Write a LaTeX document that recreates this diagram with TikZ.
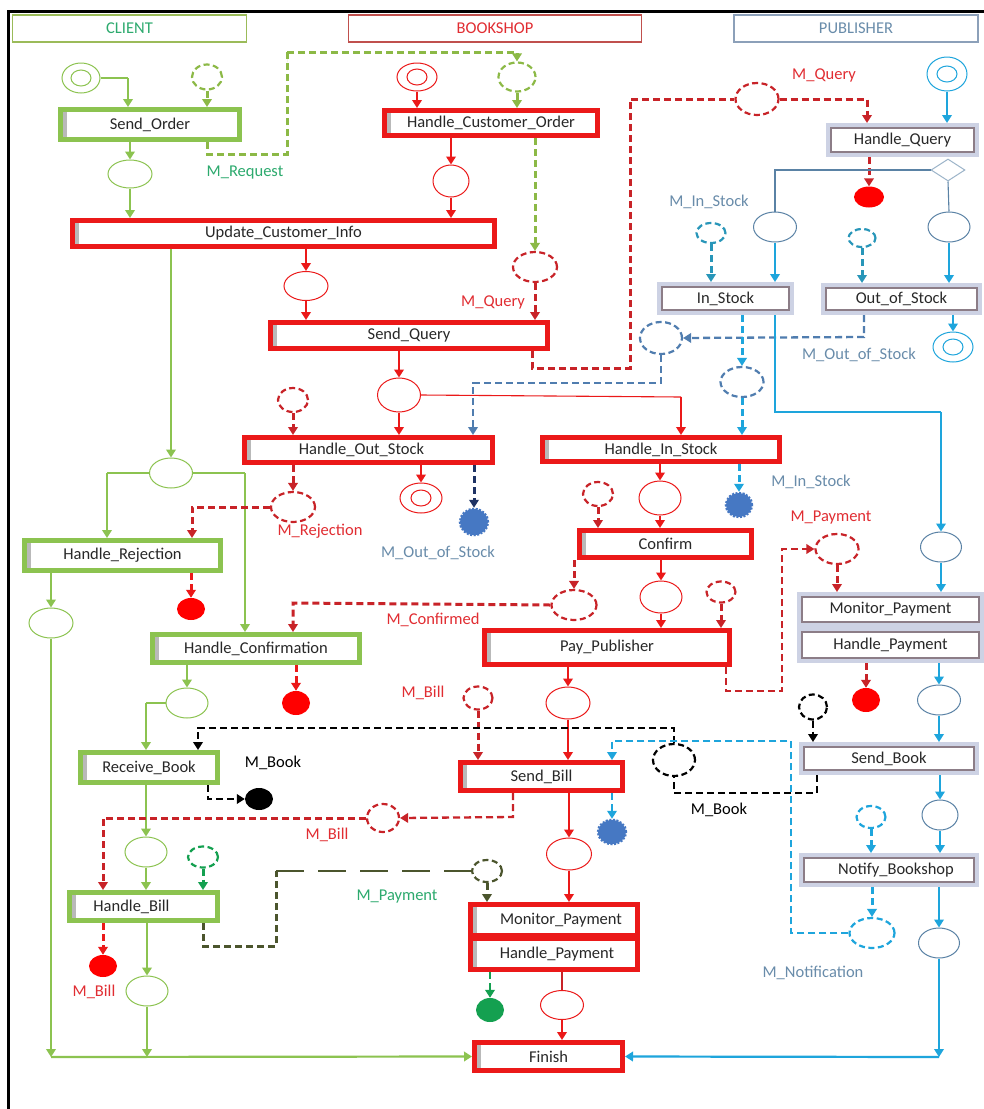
\documentclass[tikz,border=0pt]{standalone}
\usepackage{fontspec}
\setmainfont{Carlito}
\usetikzlibrary{arrows.meta,shapes.geometric,calc}

% colours
\definecolor{cg}{RGB}{140,195,80}
\definecolor{cgm}{RGB}{140,185,70}
\definecolor{cgt}{RGB}{45,170,110}
\definecolor{cgd}{RGB}{20,160,80}
\definecolor{colive}{RGB}{75,85,45}
\definecolor{cred}{RGB}{235,25,25}
\definecolor{cdred}{RGB}{200,35,40}
\definecolor{crtext}{RGB}{225,45,50}
\definecolor{ccyan}{RGB}{30,165,220}
\definecolor{cteal}{RGB}{40,150,185}
\definecolor{csteel}{RGB}{80,125,175}
\definecolor{cstext}{RGB}{105,140,170}
\definecolor{cpl}{RGB}{90,130,165}
\definecolor{cnavy}{RGB}{30,50,100}
\definecolor{cblob}{RGB}{70,120,195}
\definecolor{cpubout}{RGB}{205,210,228}
\definecolor{cpubin}{RGB}{140,125,135}
\definecolor{clientbd}{RGB}{155,187,89}
\definecolor{shopbd}{RGB}{192,80,77}
\definecolor{pubbd}{RGB}{140,160,185}
\definecolor{ctext}{RGB}{40,40,40}

\tikzset{
  every node/.style={font=\fontsize{16.5}{19}\selectfont, text=ctext},
  lane/.style={draw=#1, line width=1.2pt, minimum height=27, inner sep=0},
  shade left/.style={path picture={\fill[gray!55] (path picture bounding box.north west) rectangle ([xshift=6pt]path picture bounding box.south west);}},
  rbox/.style={draw=cred, line width=5pt, fill=white, inner sep=0, shade left},
  gbox/.style={draw=cg, line width=5pt, fill=white, inner sep=0, shade left},
  pbox/.style={draw=cpubout, line width=4pt, fill=white, inner sep=0,
    path picture={\draw[cpubin, line width=1.2pt] ([shift={(3pt,-3pt)}]path picture bounding box.north west) rectangle ([shift={(-3pt,3pt)}]path picture bounding box.south east);}},
  pl/.style={ellipse, draw=#1, line width=1pt, fill=white, inner sep=0},
  dpl/.style={ellipse, draw=#1, line width=1pt, fill=white, inner sep=0,
    path picture={\draw[#1, line width=1pt] (path picture bounding box.center) ellipse (10pt and 8pt);}},
  mpl/.style={ellipse, draw=#1, line width=2.2pt, dash pattern=on 6pt off 3.5pt, fill=white, inner sep=0},
  fend/.style={ellipse, fill=#1, inner sep=0},
  blob/.style={ellipse, fill=#1, draw=#1, line width=2.5pt, dash pattern=on 2pt off 1.5pt, inner sep=0},
  lbl/.style={text=#1, inner sep=1pt},
  tip/.style={-{Triangle[length=8pt,width=9.5pt]}},
  arr/.style={line width=2.8pt, tip},
  thinl/.style={line width=1.1pt},
  msg/.style={line width=3pt, dash pattern=on 7pt off 4pt, tip},
  msgl/.style={line width=3pt, dash pattern=on 7pt off 4pt},
  msgs/.style={line width=2.3pt, dash pattern=on 7pt off 4pt, tip},
  msgsl/.style={line width=2.3pt, dash pattern=on 7pt off 4pt},
}

\begin{document}
\begin{tikzpicture}[x=1pt,y=-1pt]
\useasboundingbox (0,0) rectangle (984,1109);
\fill[white] (0,0) rectangle (984,1109);
% outer frame
\draw[line width=3pt] (8,1109) -- (8,11) -- (984,11);

% lane headers
\node[lane=clientbd, minimum width=234] (hcl) at (129.5,28.5) {\textcolor{cgt}{CLIENT}};
\node[lane=shopbd, minimum width=293] (hsh) at (495,28.5) {\textcolor{crtext}{BOOKSHOP}};
\node[lane=pubbd, minimum width=244] (hpu) at (856,28.5) {\textcolor{cstext}{PUBLISHER}};

% ---------------- transitions ----------------
% client
\node[gbox, minimum width=179, minimum height=30] (so) at (150,124.5) {Send\_Order};
\node[gbox, minimum width=196, minimum height=30] (hr) at (122.5,555.5) {Handle\_Rejection};
\node[gbox, minimum width=207, minimum height=28] (hc) at (256,648.5) {Handle\_Confirmation};
\node[gbox, minimum width=137, minimum height=30] (rb) at (149,767.5) {Receive\_Book};
\node[gbox, minimum width=148, minimum height=28] (hb) at (143.5,906.5) {Handle\_Bill\hspace*{24pt}};
% bookshop
\node[rbox, minimum width=213, minimum height=25] (hco) at (491,123) {Handle\_Customer\_Order};
\node[rbox, minimum width=422, minimum height=26] (uci) at (283.5,233.5) {Update\_Customer\_Info};
\node[rbox, minimum width=277, minimum height=26] (sq) at (409,335.5) {Send\_Query};
\node[rbox, minimum width=248, minimum height=25] (hos) at (368.5,450) {Handle\_Out\_Stock\hspace*{14pt}};
\node[rbox, minimum width=237, minimum height=24] (his) at (661,449.5) {Handle\_In\_Stock};
\node[rbox, minimum width=172, minimum height=27] (cf) at (665.5,544) {Confirm};
\node[rbox, minimum width=245, minimum height=34] (pp) at (607,647.5) {Pay\_Publisher};
\node[rbox, minimum width=162, minimum height=28] (sb) at (541.5,776.5) {Send\_Bill};
\node[rbox, minimum width=167, minimum height=31] (bmp) at (554,920) {\hspace*{14pt}Monitor\_Payment};
\node[rbox, minimum width=167, minimum height=31] (bhp) at (554,954) {\hspace*{6pt}Handle\_Payment};
\node[rbox, minimum width=148, minimum height=28] (fin) at (548.5,1056.5) {Finish};
% publisher
\node[pbox, minimum width=149, minimum height=30] (hq) at (902.5,140) {Handle\_Query};
\node[pbox, minimum width=133, minimum height=29] (ins) at (725.5,298.5) {In\_Stock};
\node[pbox, minimum width=157, minimum height=28] (oos) at (901.5,299) {Out\_of\_Stock};
\node[pbox, minimum width=183, minimum height=31] (pmp) at (890.5,609.5) {Monitor\_Payment};
\node[pbox, minimum width=183, minimum height=32] (php) at (890.5,645) {Handle\_Payment};
\node[pbox, minimum width=176, minimum height=29] (sbk) at (889,758.5) {Send\_Book};
\node[pbox, minimum width=176, minimum height=30] (nb) at (889,870) {\hspace*{14pt}Notify\_Bookshop};

% ---------------- places ----------------
% client
\node[dpl=cg, minimum width=38, minimum height=30] (cs) at (81,78) {};
\node[mpl=cgm, minimum width=30, minimum height=25] (cm1) at (207,77) {};
\node[pl=cg, minimum width=44, minimum height=28] (cp1) at (130,174) {};
\node[pl=cg, minimum width=43, minimum height=30] (cp2) at (171,473) {};
\node[pl=cg, minimum width=44, minimum height=30] (cp3) at (51,623) {};
\node[pl=cg, minimum width=42, minimum height=30] (cp4) at (187,703) {};
\node[pl=cg, minimum width=42, minimum height=30] (cp5) at (146,852) {};
\node[mpl=cgd, minimum width=30, minimum height=21] (cm2) at (203,857) {};
\node[pl=cg, minimum width=42, minimum height=30] (cp6) at (147,991) {};
\node[fend=red, minimum width=28, minimum height=22] (re1) at (191,609) {};
\node[fend=red, minimum width=28, minimum height=24] (re2) at (296,703) {};
\node[fend=black, minimum width=28, minimum height=22] (ke1) at (259,799) {};
\node[fend=red, minimum width=28, minimum height=22] (re3) at (103,966) {};
% bookshop
\node[dpl=cred, minimum width=40, minimum height=28] (bs) at (417,77) {};
\node[mpl=cgm, minimum width=37, minimum height=29] (mreq) at (517,77) {};
\node[pl=cred, minimum width=36, minimum height=32] (bp1) at (451,181) {};
\node[pl=cred, minimum width=44, minimum height=29] (bpq) at (306,286) {};
\node[mpl=cdred, minimum width=44, minimum height=30] (mq1) at (535,267) {};
\node[pl=cred, minimum width=43, minimum height=34] (bp2) at (399,395) {};
\node[mpl=cdred, minimum width=43, minimum height=32] (mq2) at (757,99) {};
\node[mpl=cdred, minimum width=30, minimum height=24] (mrej) at (293,400) {};
\node[mpl=cdred, minimum width=44, minimum height=30] (mrj) at (293,507) {};
\node[dpl=cred, minimum width=42, minimum height=30] (bend) at (421,498) {};
\node[blob=cblob, minimum width=28, minimum height=26] (blob1) at (474,522) {};
\node[mpl=cdred, minimum width=30, minimum height=24] (mcf) at (598,494) {};
\node[pl=cred, minimum width=42, minimum height=34] (bp3) at (660,498) {};
\node[blob=cblob, minimum width=26, minimum height=24] (blob2) at (739,505) {};
\node[mpl=cdred, minimum width=45, minimum height=30] (mconf) at (574,605) {};
\node[pl=cred, minimum width=42, minimum height=32] (bp4) at (661,597) {};
\node[mpl=cdred, minimum width=29, minimum height=21] (mpay) at (721,592) {};
\node[pl=cred, minimum width=44, minimum height=32] (bp5) at (568,703) {};
\node[mpl=cdred, minimum width=29, minimum height=23] (mbill) at (478,698) {};
\node[mpl=black, minimum width=42, minimum height=32] (mbk) at (674,760) {};
\node[mpl=cdred, minimum width=32, minimum height=28] (mbl) at (383,818) {};
\node[blob=cblob, minimum width=28, minimum height=24] (blob3) at (612,832) {};
\node[pl=cred, minimum width=45, minimum height=32] (bp6) at (569,854) {};
\node[mpl=colive, minimum width=30, minimum height=22] (mpc) at (487,871) {};
\node[fend=cgd, minimum width=28, minimum height=24] (ge1) at (490,1010) {};
\node[pl=cred, minimum width=43, minimum height=29] (bp7) at (562,1005) {};
% publisher
\node[dpl=ccyan, minimum width=40, minimum height=34] (ps) at (947,74) {};
\node[diamond, draw=cpl!60, line width=1pt, fill=white, minimum width=34, minimum height=22, inner sep=0] (dia) at (948,170) {};
\node[fend=red, minimum width=30, minimum height=21] (qe1) at (869,197) {};
\node[pl=cpl, minimum width=43, minimum height=30] (pp1) at (775,227) {};
\node[pl=cpl, minimum width=42, minimum height=30] (pp2) at (949,227) {};
\node[mpl=cteal, minimum width=29, minimum height=20] (mis1) at (711,233) {};
\node[mpl=cteal, minimum width=27, minimum height=18] (mos1) at (862,238) {};
\node[mpl=csteel, minimum width=42, minimum height=32] (mos) at (661,338) {};
\node[dpl=ccyan, minimum width=40, minimum height=30] (pend) at (953,347) {};
\node[mpl=csteel, minimum width=43, minimum height=30] (misc) at (742,382) {};
\node[mpl=cdred, minimum width=43, minimum height=30] (mpp) at (837,549) {};
\node[pl=cpl, minimum width=41, minimum height=30] (pp3) at (941,547) {};
\node[fend=red, minimum width=28, minimum height=24] (pe2) at (866,700) {};
\node[pl=cpl, minimum width=43, minimum height=30] (pp4) at (939,700) {};
\node[mpl=black, minimum width=28, minimum height=25] (mbk2) at (813,707) {};
\node[pl=cpl, minimum width=36, minimum height=30] (pp5) at (940,815) {};
\node[mpl=ccyan, minimum width=29, minimum height=22] (mnb) at (871,817) {};
\node[pl=cpl, minimum width=41, minimum height=30] (pp6) at (939,943) {};
\node[mpl=ccyan, minimum width=45, minimum height=30] (mnot) at (872,933) {};

% ---------------- labels ----------------
\node[lbl=cgt] (l1) at (245,173) {M\_Request};
\node[lbl=crtext] (l2) at (824,75) {M\_Query};
\node[lbl=crtext] (l3) at (493,302) {M\_Query};
\node[lbl=cstext] (l4) at (709,202) {M\_In\_Stock};
\node[lbl=cstext] (l5) at (859,355) {M\_Out\_of\_Stock};
\node[lbl=cstext] (l6) at (811,482) {M\_In\_Stock};
\node[lbl=crtext] (l7) at (831,518) {M\_Payment};
\node[lbl=crtext] (l8) at (320,531) {M\_Rejection};
\node[lbl=cstext] (l9) at (438,553) {M\_Out\_of\_Stock};
\node[lbl=crtext] (l10) at (433,620) {M\_Confirmed};
\node[lbl=crtext] (l11) at (423,693) {M\_Bill};
\node[lbl=black] (l12) at (273,763) {M\_Book};
\node[lbl=black] (l13) at (719,810) {M\_Book};
\node[lbl=crtext] (l14) at (327,835) {M\_Bill};
\node[lbl=cgt] (l15) at (397,897) {M\_Payment};
\node[lbl=crtext] (l16) at (94,992) {M\_Bill};
\node[lbl=cstext] (l17) at (813,973) {M\_Notification};

% ---------------- junction points ----------------
\coordinate (j1) at (128,78);
\coordinate (j2) at (287,154);
\coordinate (j3) at (287,54);
\coordinate (j3b) at (287,52);
\coordinate (j4) at (107,473);
\coordinate (j5) at (245,473);
\coordinate (j6) at (146,703);
\coordinate (j7) at (208,800);
\coordinate (j8) at (276,946);
\coordinate (j9) at (276,871);
\coordinate (j10) at (681,397);
\coordinate (j11) at (532,368);
\coordinate (j12) at (630,368);
\coordinate (j13) at (630,99);
\coordinate (j14) at (867,99);
\coordinate (j15) at (192,507);
\coordinate (j16) at (864,337);
\coordinate (j17) at (661,383);
\coordinate (j18) at (473,383);
\coordinate (j19) at (293,603);
\coordinate (j20) at (726,691);
\coordinate (j21) at (782,691);
\coordinate (j22) at (782,549);
\coordinate (j23) at (817,793);
\coordinate (j24) at (674,793);
\coordinate (j25) at (674,728);
\coordinate (j26) at (198,728);
\coordinate (j27) at (791,933);
\coordinate (j28) at (791,741);
\coordinate (j29) at (612,741);
\coordinate (j30) at (513,817);
\coordinate (j31) at (103,818);
\coordinate (j32) at (775,170);
\coordinate (j33) at (775,412);
\coordinate (j34) at (941,412);
\coordinate (jb1) at (51,1057);
\coordinate (jb2) at (147,1057);
\coordinate (jb3) at (939,1057);

% ---------------- client flow ----------------
\draw[thinl, cg] (cs.east) -- (j1);
\draw[arr, cg] (j1) -- (j1 |- so.north);
\draw[msg, cgm] (cm1.south) -- (cm1.south |- so.north);
\draw[msgl, cgm] (cm1 |- so.south) |- (j2) -- (j3b);
\draw[arr, draw=none, fill=cgm] ($(j3)+(0,8)$) -- (j3);
\draw[msg, cgm] (j3b) -| (mreq.north);
\draw[arr, cg] (so.south -| cp1) -- (cp1.north);
\draw[arr, cg] (cp1.south) -- (cp1.south |- uci.north);
\draw[arr, cg] (cp2 |- uci.south) -- (cp2.north);
\draw[thinl, cg] (cp2.west) -- (j4);
\draw[arr, cg] (j4) -- (j4 |- hr.north);
\draw[thinl, cg] (cp2.east) -- (j5);
\draw[arr, cg] (j5) -- (j5 |- hc.north);
\draw[arr, cg] (cp3 |- hr.south) -- (cp3.north);
\draw[arr, cg] (cp3.south) -- (jb1);
\draw[arr, cg] (cp4 |- hc.south) -- (cp4.north);
\draw[thinl, cg] (cp4.west) -- (j6);
\draw[arr, cg] (j6) -- (j6 |- rb.north);
\draw[arr, cg] (cp5 |- rb.south) -- (cp5.north);
\draw[arr, cg] (cp5.south) -- (cp5.south |- hb.north);
\draw[msg, cgd] (cm2.south) -- (cm2.south |- hb.north);
\draw[arr, cg] (cp6 |- hb.south) -- (cp6.north);
\draw[arr, cg] (cp6.south) -- (jb2);
\draw[line width=2.2pt, cg, tip] (jb1) -- (fin.west);
\draw[msg, cred] (re1 |- hr.south) -- (re1.north);
\draw[msg, cred] (re2 |- hc.south) -- (re2.north);
\draw[msgs, black] (rb.south -| j7) |- (ke1.west);
\draw[msg, cred] (re3 |- hb.south) -- (re3.north);
\draw[msgl, colive] (hb.south -| cm2) |- (j8) -- (j9);
\draw[line width=2.8pt, colive, dash pattern=on 28pt off 14pt] (j9) -- (mpc.west);
\draw[msg, colive] (mpc.south) -- (mpc.south |- bmp.north);

% ---------------- bookshop flow ----------------
\draw[arr, cred] (bs.south) -- (bs.south |- hco.north);
\draw[msg, cgm] (mreq.south) -- (mreq.south |- hco.north);
\draw[arr, cred] (bp1 |- hco.south) -- (bp1.north);
\draw[arr, cred] (bp1.south) -- (bp1.south |- uci.north);
\draw[msg, cgm] (mq1 |- hco.south) -- (mq1.north);
\draw[msg, cdred] (mq1.south) -- (mq1.south |- sq.north);
\draw[arr, cred] (bpq |- uci.south) -- (bpq.north);
\draw[arr, cred] (bpq.south) -- (bpq.south |- sq.north);
\draw[arr, cred] (bp2 |- sq.south) -- (bp2.north);
\draw[arr, cred] (bp2.south) -- (bp2.south |- hos.north);
\draw[thinl, cred] (bp2.east) -- (j10);
\draw[arr, cred] (j10) -- (j10 |- his.north);
\draw[msgl, cdred] (sq.south -| j11) -- (j11) -- (j12) -- (j13) -- (mq2.west);
\draw[msg, cdred] (mq2.east) -- (j14) -- (j14 |- hq.north);
\draw[msg, cdred] (mrej.south) -- (mrej.south |- hos.north);
\draw[msg, cdred] (hos.south -| mrj) -- (mrj.north);
\draw[msg, cdred] (mrj.west) -- (j15) -- (j15 |- hr.north);
\draw[arr, cred] (hos.south -| bend) -- (bend.north);
\draw[msg, cnavy] (hos.south -| blob1) -- (blob1.north);
\draw[msgs, csteel] (oos.south -| j16) -- (j16) -- (mos.east);
\draw[msgs, csteel] (mos.south) -- (j17) -- (j18) -- (j18 |- hos.north);
\draw[msg, ccyan] (ins.south -| misc) -- (misc.north);
\draw[msg, ccyan] (misc.south) -- (misc.south |- his.north);
\draw[msg, ccyan] (his.south -| blob2) -- (blob2.north);
\draw[arr, cred] (his.south -| bp3) -- (bp3.north);
\draw[arr, cred] (bp3.south) -- (bp3.south |- cf.north);
\draw[msg, cdred] (mcf.south) -- (mcf.south |- cf.north);
\draw[msg, cdred] (cf.south -| mconf) -- (mconf.north);
\draw[msg, cdred] (mconf.west) -- (j19) -- (j19 |- hc.north);
\draw[arr, cred] (cf.south -| bp4) -- (bp4.north);
\draw[arr, cred] (bp4.south) -- (bp4.south |- pp.north);
\draw[msg, cdred] (mpay.south) -- (mpay.south |- pp.north);
\draw[msgs, cdred] (pp.south -| j20) -- (j20) -- (j21) -- (j22) -- (mpp.west);
\draw[msg, cdred] (mpp.south) -- (mpp.south |- pmp.north);
\draw[arr, cred] (pp.south -| bp5) -- (bp5.north);
\draw[arr, cred] (bp5.south) -- (bp5.south |- sb.north);
\draw[msg, cdred] (mbill.south) -- (mbill.south |- sb.north);
\draw[msgsl, black] (sbk.south -| j23) -- (j23) -- (j24) -- (mbk.south);
\draw[msgs, black] (mbk.north) -- (j25) -- (j26) -- (j26 |- rb.north);
\draw[msgs, ccyan] (mnot.west) -- (j27) -- (j28) -- (j29) -- (j29 |- sb.north);
\draw[msgs, cdred] (sb.south -| j30) -- (j30) -- (mbl.east);
\draw[msg, cdred] (mbl.west) -- (j31) -- (j31 |- hb.north);
\draw[arr, cred] (sb.south -| bp6) -- (bp6.north);
\draw[arr, cred] (bp6.south) -- (bp6.south |- bmp.north);
\draw[msgs, ccyan] (sb.south -| blob3) -- (blob3.north);
\draw[msgs, cgd] (bhp.south -| ge1) -- (ge1.north);
\draw[line width=2.2pt, cdred] (bhp.south -| bp7) -- (bp7.north);
\draw[arr, cred] (bp7.south) -- (bp7.south |- fin.north);

% ---------------- publisher flow ----------------
\draw[arr, ccyan] (ps.south) -- (ps.south |- hq.north);
\draw[msg, cdred] (hq.south -| qe1) -- (qe1.north);
\draw[thinl, cpl] (dia.west) -- (j32) -- (pp1.north);
\draw[thinl, cpl] (dia.south) -- (pp2.north);
\draw[arr, ccyan] (pp1.south) -- (pp1.south |- ins.north);
\draw[arr, ccyan] (pp2.south) -- (pp2.south |- oos.north);
\draw[msg, cteal] (mis1.south) -- (mis1.south |- ins.north);
\draw[msg, cteal] (mos1.south) -- (mos1.south |- oos.north);
\draw[arr, ccyan] (oos.south -| pend) -- (pend.north);
\draw[thinl, ccyan] (ins.south -| j33) -- (j33) -- (j34);
\draw[arr, ccyan] (j34) -- (pp3.north);
\draw[arr, ccyan] (pp3.south) -- (pp3.south |- pmp.north);
\draw[arr, ccyan] (php.south -| pp4) -- (pp4.north);
\draw[arr, ccyan] (pp4.south) -- (pp4.south |- sbk.north);
\draw[msg, cdred] (php.south -| pe2) -- (pe2.north);
\draw[msgs, black] (mbk2.south) -- (mbk2.south |- sbk.north);
\draw[arr, ccyan] (sbk.south -| pp5) -- (pp5.north);
\draw[arr, ccyan] (pp5.south) -- (pp5.south |- nb.north);
\draw[msg, ccyan] (mnb.south) -- (mnb.south |- nb.north);
\draw[arr, ccyan] (nb.south -| pp6) -- (pp6.north);
\draw[msg, ccyan] (nb.south -| mnot) -- (mnot.north);
\draw[arr, ccyan] (pp6.south) -- (jb3);
\draw[line width=2.2pt, ccyan, tip] (jb3) -- (fin.east);
\end{tikzpicture}
\end{document}
